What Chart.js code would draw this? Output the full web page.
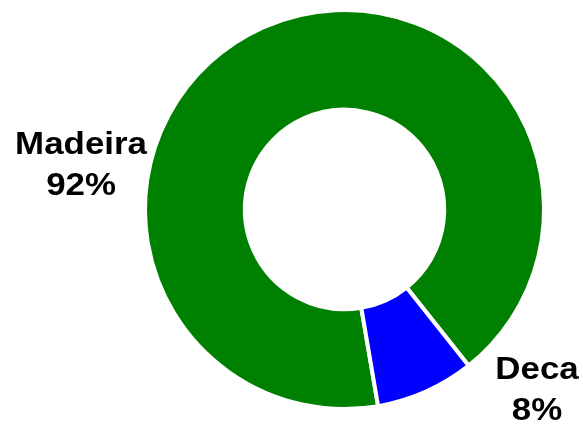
<!DOCTYPE html>
<html>
<head>
<meta charset="utf-8">
<script src="https://cdn.jsdelivr.net/npm/chart.js@4/dist/chart.umd.min.js"></script>
<style>
  html, body { margin: 0; padding: 0; background: #ffffff; }
  #wrap { width: 583px; height: 425px; }
</style>
</head>
<body>
<div id="wrap"><canvas id="donut" width="583" height="425"></canvas></div>
<script>
const categories = ["Madeira", "Deca"];
const values = [92, 8];
const percentLabels = ["92%", "8%"];
const colors = ["#008000", "#0000ff"];

// label placement, in units of the outer radius, from the ring centre
const labelSpots = [
  { dx: -1.334, dy: -0.28 },
  { dx: 0.975, dy: 0.86 }
];

const sliceLabels = {
  id: "sliceLabels",
  afterDatasetsDraw(chart) {
    const ctx = chart.ctx;
    const arcs = chart.getDatasetMeta(0).data;
    if (!arcs.length) return;
    const cx = arcs[0].x;
    const cy = arcs[0].y;
    const r = arcs[0].outerRadius - 2;
    categories.forEach((name, i) => {
      const x = cx + labelSpots[i].dx * r;
      const y = cy + labelSpots[i].dy * r;
      ctx.save();
      ctx.translate(x, y);
      ctx.scale(1.09, 1);   // the original lettering is a touch wider than Arial
      ctx.fillStyle = "#000000";
      ctx.font = "bold 32px 'Liberation Sans', Arial, sans-serif";
      ctx.textAlign = "center";
      ctx.textBaseline = "alphabetic";
      ctx.fillText(name, 0, 0);
      ctx.fillText(percentLabels[i], 0, 41);
      ctx.restore();
    });
  }
};

new Chart(document.getElementById("donut"), {
  type: "doughnut",
  data: {
    labels: categories,
    datasets: [{
      data: values,
      backgroundColor: colors,
      borderColor: "#ffffff",
      borderWidth: 4
    }]
  },
  options: {
    responsive: false,
    animation: false,
    rotation: 170.3,
    cutout: "50%",
    layout: { padding: { left: 143, right: 37, top: 8, bottom: 14 } },
    plugins: {
      legend: { display: false },
      tooltip: { enabled: false }
    }
  },
  plugins: [sliceLabels]
});
</script>
</body>
</html>
